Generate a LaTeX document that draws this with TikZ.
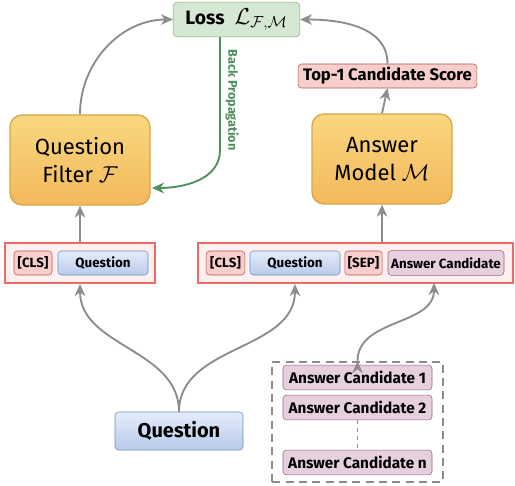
\documentclass[tikz,border=0pt]{standalone}
\usepackage{amsmath,amssymb}
\usepackage{fontspec}
\setmainfont{Fira Sans}
\usepackage{tikz}
\usetikzlibrary{positioning,arrows.meta}

\definecolor{boxorange}{HTML}{F9D77E}
\definecolor{boxorangeb}{HTML}{F3B95C}
\definecolor{lineorange}{HTML}{D6A64A}
\definecolor{fillgreen}{HTML}{D5E8D4}
\definecolor{linegreen}{HTML}{82B366}
\definecolor{backgreen}{HTML}{4E8F5C}
\definecolor{fillred}{HTML}{F8CECC}
\definecolor{linered}{HTML}{B85450}
\definecolor{framered}{HTML}{EA6B66}
\definecolor{framefill}{HTML}{FFF0F0}
\definecolor{fillblue}{HTML}{E3ECFA}
\definecolor{fillblueb}{HTML}{B9CBEA}
\definecolor{lineblue}{HTML}{6C8EBF}
\definecolor{fillpink}{HTML}{E6D0DE}
\definecolor{linepink}{HTML}{996185}
\definecolor{arrgray}{HTML}{8C8C8C}

\tikzset{
  model/.style={draw=lineorange, line width=1pt, rounded corners=9pt,
    top color=boxorange, bottom color=boxorangeb, minimum width=105pt,
    minimum height=67.5pt, align=center, font=\fontsize{16.5}{21.5}\selectfont},
  losstag/.style={draw=linegreen, fill=fillgreen, rounded corners=3pt,
    minimum width=95pt, minimum height=26pt, inner sep=1pt,
    font=\bfseries\fontsize{14.5}{16}\selectfont},
  frame/.style={draw=framered, line width=1.6pt, fill=framefill, minimum height=30pt},
  redtok/.style={draw=linered, fill=fillred, rounded corners=2.5pt,
    minimum height=18pt, inner sep=1pt, font=\bfseries\fontsize{10}{12}\selectfont},
  bluetok/.style={draw=lineblue, top color=fillblue, bottom color=fillblueb,
    rounded corners=2.5pt, minimum height=18pt, inner sep=1pt,
    font=\bfseries\fontsize{10}{12}\selectfont},
  pinktok/.style={draw=linepink, fill=fillpink, rounded corners=2.5pt,
    minimum height=18.5pt, inner sep=1pt, font=\bfseries\fontsize{11.5}{13}\selectfont},
  flow/.style={draw=arrgray, line width=1.4pt,
    -{Stealth[length=9pt,width=8pt,fill=arrgray!50]}},
}

\begin{document}
\begin{tikzpicture}[x=0.75pt,y=-0.75pt]
    \useasboundingbox (0,0) rectangle (515,486);
    %blocks
    \node[losstag] (loss) at (236.5,19.5) {Loss\enspace{\fontsize{18}{20}\selectfont$\mathcal{L}_{\mathcal{F},\mathcal{M}}$}};
    \node[model] (filter) at (80,160) {Question\\Filter $\mathcal{F}$};
    \node[model] (answer) at (382,159) {Answer\\Model $\mathcal{M}$};
    \node[redtok, minimum width=134pt, font=\bfseries\fontsize{12.5}{14}\selectfont] (top1) at (387.5,76) {Top-1 Candidate Score};
    %inputs
    \node[frame, minimum width=112.5pt] (frameL) at (80,263) {};
    \node[redtok, minimum width=28.5pt] (clsL) at (33,263) {[CLS]};
    \node[bluetok, minimum width=67.5pt] (qL) at (103,263) {Question};
    \node[frame, minimum width=236pt] (frameR) at (355.5,263) {};
    \node[redtok, minimum width=29pt] (clsR) at (225.5,263) {[CLS]};
    \node[bluetok, minimum width=67.5pt] (qR) at (295,263) {Question};
    \node[redtok, minimum width=28pt] (sep) at (363.5,263) {[SEP]};
    \node[pinktok, minimum width=87pt, font=\bfseries\fontsize{10}{12}\selectfont] (ac) at (446,263) {Answer Candidate};
    %question and candidates
    \node[bluetok, minimum width=96pt, minimum height=28.5pt, font=\bfseries\fontsize{15}{17}\selectfont] (question) at (179,431) {Question};
    \node[draw=arrgray, dashed, line width=1.2pt, dash pattern=on 6pt off 4pt,
      minimum width=128pt, minimum height=90pt] (cands) at (357.5,422) {};
    \node[pinktok, minimum width=111.75pt] (cand1) at (357.5,377.5) {Answer Candidate 1};
    \node[pinktok, minimum width=111.75pt] (cand2) at (357.5,407.5) {Answer Candidate 2};
    \node[pinktok, minimum width=111.75pt] (candn) at (357.5,462.5) {Answer Candidate n};
    \draw[arrgray, line width=1pt, dashed] (cand2.south) -- (candn.north);
    %edges
    \coordinate (acin) at (434,283);
    \path[flow]
     (frameL.north) edge (filter.south)
     (answer.south |- frameR.north) edge (answer.south)
     (answer.north) edge (top1.south)
     (filter.north) edge[out=90, in=180] (loss.west)
     (top1.north) edge[out=90, in=0] (loss.east)
     (question.north) edge[out=90, in=-90] (frameL.south)
     (question.north) edge[out=90, in=-90] (qR.south |- frameR.south)
     (cands.north) edge[out=90, in=-90] (acin);
    %back propagation
    \coordinate (bpstart) at (220,37);
    \coordinate (bpturn) at (220,150);
    \coordinate (bpend) at (152,188);
    \draw[backgreen, line width=1.4pt, -{Stealth[length=9pt,width=8pt,fill=backgreen!50]}]
      (bpstart) -- (bpturn) to[out=-90, in=0] (bpend);
    \node[rotate=-90, text=backgreen, font=\bfseries\fontsize{9.5}{11}\selectfont] (bplabel) at (232,100) {Back Propagation};
\end{tikzpicture}
\end{document}
